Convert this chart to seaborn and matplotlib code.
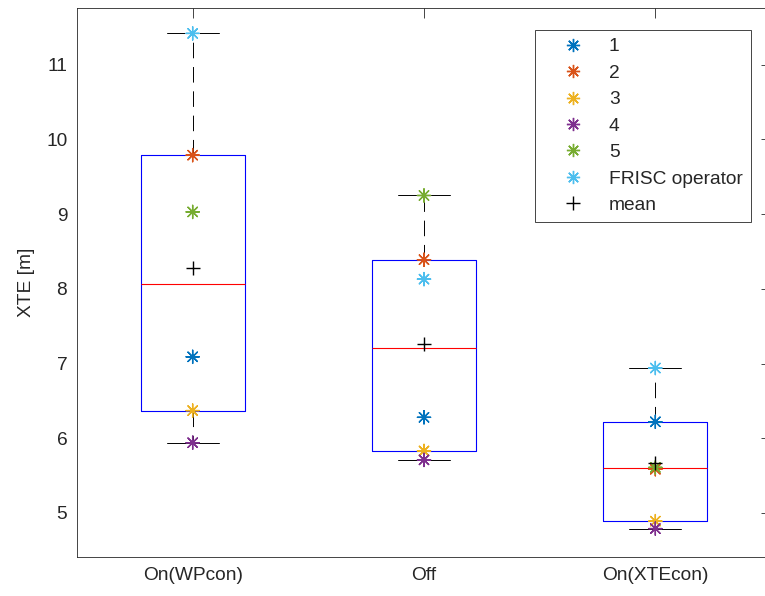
import numpy as np
import pandas as pd
import matplotlib
matplotlib.use('Agg')
import matplotlib.pyplot as plt
import seaborn as sns
from matplotlib.lines import Line2D

conditions = ['On(WPcon)', 'Off', 'On(XTEcon)']
runs = ['1', '2', '3', '4', '5', 'FRISC operator']
xte_wpcon = [7.09, 9.79, 6.37, 5.94, 9.03, 11.42]
xte_off = [6.28, 8.39, 5.83, 5.71, 9.25, 8.13]
xte_xtecon = [6.22, 5.585, 4.89, 4.79, 5.61, 6.94]
run_colors = ['#0072BD', '#D95319', '#EDB120', '#7E2F8E', '#77AC30', '#4DBEEE']
y_ticks = [5, 6, 7, 8, 9, 10, 11]

sns.set_theme(style='white')
plt.rcParams['font.family'] = ['Liberation Sans', 'DejaVu Sans']
axcol = '#262626'
fs = 13.8

df = pd.DataFrame({
    'condition': np.repeat(conditions, len(runs)),
    'run': runs * len(conditions),
    'xte': xte_wpcon + xte_off + xte_xtecon,
})

fig = plt.figure(figsize=(7.65, 5.96), dpi=100)
ax = fig.add_axes([77 / 765, 39 / 596, 694 / 765, 549 / 596])

# MATLAB-style box statistics (prctile uses the 'hazen' definition)
stats = []
for c in conditions:
    v = df.loc[df.condition == c, 'xte'].to_numpy()
    q1, med, q3 = np.percentile(v, [25, 50, 75], method='hazen')
    iqr = q3 - q1
    lo = v[v >= q1 - 1.5 * iqr].min()
    hi = v[v <= q3 + 1.5 * iqr].max()
    stats.append(dict(med=med, q1=q1, q3=q3, whislo=lo, whishi=hi, fliers=[]))

ax.bxp(stats, positions=range(len(conditions)), widths=0.45, capwidths=0.225,
       showfliers=False, manage_ticks=False,
       boxprops=dict(color='#0000FF', lw=0.8),
       medianprops=dict(color='#FF0000', lw=0.8),
       whiskerprops=dict(color='black', lw=0.7, linestyle=(0, (16, 9))),
       capprops=dict(color='black', lw=0.7))

ast = (8, 2, 0)
sns.stripplot(data=df, x='condition', y='xte', hue='run', order=conditions,
              hue_order=runs, palette=run_colors, jitter=False, dodge=False,
              marker=ast, s=9.5, linewidth=1.0, legend=False, ax=ax, zorder=3)

sns.pointplot(data=df, x='condition', y='xte', order=conditions, estimator='mean',
              errorbar=None, color='black', markers='+', linestyles='none',
              markersize=10, markeredgewidth=1.0, ax=ax, zorder=4)

ax.set_xlim(-0.5, 2.5)
ax.set_ylim(4.41, 11.76)
ax.set_yticks(y_ticks)
ax.set_xlabel('')
ax.set_ylabel('XTE [m]', fontsize=fs, color=axcol, labelpad=8)
ax.tick_params(direction='in', length=7, width=0.6, top=True, right=True,
               color=axcol, labelcolor=axcol, labelsize=fs, pad=7)
for sp in ax.spines.values():
    sp.set_visible(True)
    sp.set_color(axcol)
    sp.set_linewidth(0.6)

handles = [Line2D([], [], ls='none', marker=ast, color=c, ms=9.5, mew=1.0) for c in run_colors]
handles.append(Line2D([], [], ls='none', marker='+', color='black', ms=10, mew=1.0))
leg = ax.legend(handles, runs + ['mean'], loc='upper right', bbox_to_anchor=(0.971, 0.960),
                frameon=True, fancybox=False, edgecolor=axcol, framealpha=1,
                fontsize=fs, borderaxespad=0, borderpad=0.42, handlelength=3.1,
                handletextpad=0.35, labelspacing=0.47)
leg.get_frame().set_linewidth(0.6)

fig.savefig('out.png', dpi=100)
